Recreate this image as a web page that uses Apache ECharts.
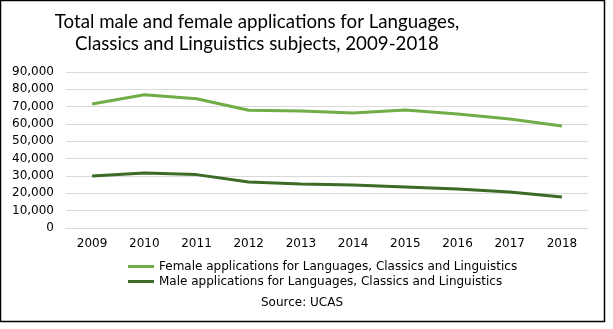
<!DOCTYPE html>
<html>
<head>
<meta charset="utf-8">
<script src="https://cdn.jsdelivr.net/npm/echarts@6/dist/echarts.min.js"></script>
<style>
  html, body { margin: 0; padding: 0; background: #ffffff; }
  #chart { width: 613px; height: 329px; }
</style>
</head>
<body>
<div id="chart"></div>
<script>
// Applications by year (UCAS)
const years = ['2009', '2010', '2011', '2012', '2013', '2014', '2015', '2016', '2017', '2018'];
const femaleApplications = [71500, 76900, 74600, 67900, 67500, 66400, 68100, 65800, 62900, 58800];
const maleApplications = [30000, 31700, 30800, 26500, 25400, 24800, 23700, 22500, 20800, 17900];
const femaleName = 'Female applications for Languages, Classics and Linguistics';
const maleName = 'Male applications for Languages, Classics and Linguistics';
const titleText = 'Total male and female applications for Languages,\nClassics and Linguistics subjects, 2009-2018';
const sourceText = 'Source: UCAS';

const chart = echarts.init(document.getElementById('chart'), null, { renderer: 'canvas' });
const axisFont = 'DejaVu Sans, Verdana, sans-serif';

chart.setOption({
  animation: false,
  backgroundColor: '#ffffff',
  title: {
    text: titleText,
    left: 257,
    top: 11,
    padding: 0,
    textAlign: 'center',
    textStyle: {
      fontFamily: 'Lato, sans-serif',
      fontSize: 18.7,
      fontWeight: 'normal',
      color: '#000000',
      lineHeight: 22
    }
  },
  grid: { left: 66, right: 25, top: 72, bottom: 101, containLabel: false },
  xAxis: {
    type: 'category',
    data: years,
    boundaryGap: true,
    axisLine: { show: true, lineStyle: { color: '#d9d9d9', width: 1 } },
    axisTick: { show: false },
    axisLabel: { color: '#000000', fontFamily: axisFont, fontSize: 12, margin: 10 }
  },
  yAxis: {
    type: 'value',
    min: 0,
    max: 90000,
    interval: 10000,
    axisLine: { show: false },
    axisTick: { show: false },
    splitLine: { lineStyle: { color: '#d9d9d9', width: 1 } },
    axisLabel: {
      color: '#000000',
      fontFamily: axisFont,
      fontSize: 12,
      margin: 12,
      formatter: v => v.toLocaleString('en-US')
    }
  },
  legend: {
    orient: 'vertical',
    left: 128,
    top: 260,
    padding: 0,
    icon: 'rect',
    itemWidth: 26,
    itemHeight: 3,
    itemGap: 2,
    textStyle: { color: '#000000', fontFamily: axisFont, fontSize: 12, lineHeight: 13 },
    data: [femaleName, maleName]
  },
  graphic: [
    {
      type: 'text',
      left: 261,
      top: 297,
      style: { text: sourceText, fill: '#000000', font: '12px DejaVu Sans, Verdana, sans-serif' }
    },
    {
      type: 'rect',
      shape: { x: 0.5, y: 0.5, width: 604, height: 321 },
      style: { fill: 'none', stroke: '#000000', lineWidth: 1.5 },
      silent: true
    }
  ],
  series: [
    {
      name: femaleName,
      type: 'line',
      data: femaleApplications,
      symbol: 'none',
      lineStyle: { color: '#70ad47', width: 3 },
      itemStyle: { color: '#70ad47' }
    },
    {
      name: maleName,
      type: 'line',
      data: maleApplications,
      symbol: 'none',
      lineStyle: { color: '#3b6b26', width: 3 },
      itemStyle: { color: '#3b6b26' }
    }
  ]
});
</script>
</body>
</html>
